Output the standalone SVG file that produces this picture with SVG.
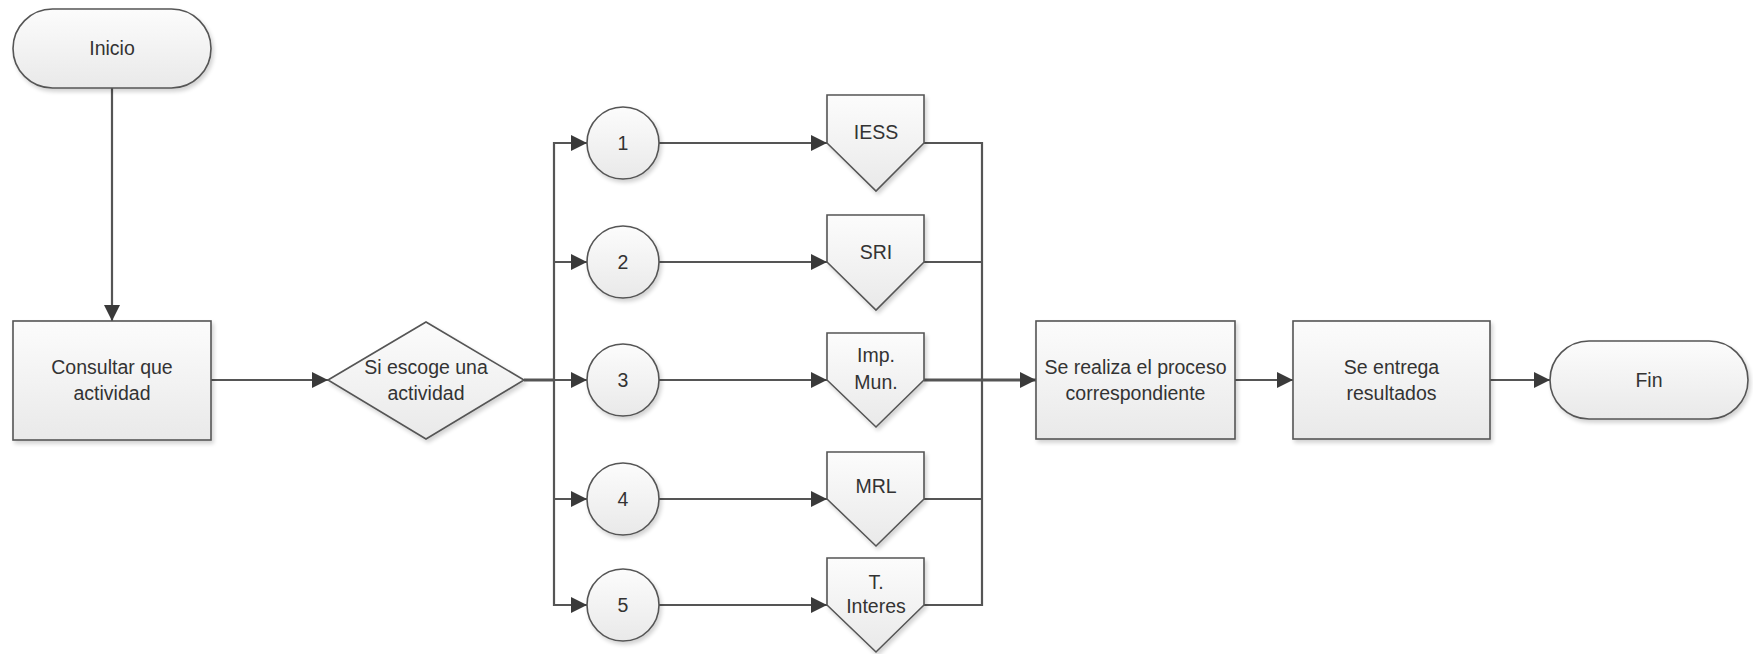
<svg xmlns="http://www.w3.org/2000/svg" width="1753" height="654" viewBox="0 0 1753 654">
<defs>
  <linearGradient id="g" x1="0" y1="0" x2="0" y2="1">
    <stop offset="0" stop-color="#fcfcfc"/>
    <stop offset="1" stop-color="#e9e9e9"/>
  </linearGradient>
  <filter id="sh" x="-10%" y="-10%" width="130%" height="130%">
    <feGaussianBlur in="SourceAlpha" stdDeviation="2"/>
    <feOffset dx="2" dy="3"/>
    <feComponentTransfer><feFuncA type="linear" slope="0.18"/></feComponentTransfer>
    <feMerge><feMergeNode/><feMergeNode in="SourceGraphic"/></feMerge>
  </filter>
  <marker id="arr" markerUnits="userSpaceOnUse" markerWidth="18" markerHeight="16" refX="16" refY="8" orient="auto">
    <path d="M0,0 L16,8 L0,16 Z" fill="#3a3a3a"/>
  </marker>
  <style>
    .shape { fill: url(#g); stroke: #555; stroke-width: 1.6; filter: url(#sh); }
    .t { font-family: "Liberation Sans", Arial, sans-serif; font-size: 19.5px; fill: #333; text-anchor: middle; }
    .c { fill: none; stroke: #555; stroke-width: 2.2; }
    .ca { fill: none; stroke: #555; stroke-width: 2.2; marker-end: url(#arr); }
  </style>
</defs>
<rect width="1753" height="654" fill="#fff"/>

<g id="connectors">
  <line class="ca" x1="112" y1="88" x2="112" y2="321"/>
  <line class="ca" x1="211" y1="380" x2="328" y2="380"/>
  <line class="c" x1="524" y1="380" x2="554" y2="380" style="stroke-width:3"/>
  <line class="c" x1="554" y1="142" x2="554" y2="606"/>
  <line class="ca" x1="554" y1="143" x2="587" y2="143"/>
  <line class="ca" x1="554" y1="262" x2="587" y2="262"/>
  <line class="ca" x1="554" y1="380" x2="587" y2="380"/>
  <line class="ca" x1="554" y1="499" x2="587" y2="499"/>
  <line class="ca" x1="554" y1="605" x2="587" y2="605"/>
  <line class="ca" x1="659" y1="143" x2="827" y2="143"/>
  <line class="ca" x1="659" y1="262" x2="827" y2="262"/>
  <line class="ca" x1="659" y1="380" x2="827" y2="380"/>
  <line class="ca" x1="659" y1="499" x2="827" y2="499"/>
  <line class="ca" x1="659" y1="605" x2="827" y2="605"/>
  <line class="c" x1="924" y1="143" x2="982" y2="143"/>
  <line class="c" x1="924" y1="262" x2="982" y2="262"/>
  <line class="c" x1="924" y1="499" x2="982" y2="499"/>
  <line class="c" x1="924" y1="605" x2="982" y2="605"/>
  <line class="c" x1="982" y1="142" x2="982" y2="606"/>
  <line class="ca" x1="924" y1="380" x2="1036" y2="380" style="stroke-width:3"/>
  <line class="ca" x1="1235" y1="380" x2="1293" y2="380"/>
  <line class="ca" x1="1490" y1="380" x2="1550" y2="380"/>
</g>

<g id="inicio">
  <rect class="shape" x="13" y="9" width="198" height="79" rx="39.5" ry="39.5"/>
  <text class="t" x="112" y="55">Inicio</text>
</g>
<g id="consultar">
  <rect class="shape" x="13" y="321" width="198" height="119"/>
  <text class="t" x="112" y="374">Consultar que</text>
  <text class="t" x="112" y="400">actividad</text>
</g>
<g id="decision">
  <polygon class="shape" points="328,380 426,322 524,380 426,439"/>
  <text class="t" x="426" y="374">Si escoge una</text>
  <text class="t" x="426" y="400">actividad</text>
</g>

<g id="c1"><circle class="shape" cx="623" cy="143" r="36"/><text class="t" x="623" y="150">1</text></g>
<g id="c2"><circle class="shape" cx="623" cy="262" r="36"/><text class="t" x="623" y="269">2</text></g>
<g id="c3"><circle class="shape" cx="623" cy="380" r="36"/><text class="t" x="623" y="387">3</text></g>
<g id="c4"><circle class="shape" cx="623" cy="499" r="36"/><text class="t" x="623" y="506">4</text></g>
<g id="c5"><circle class="shape" cx="623" cy="605" r="36"/><text class="t" x="623" y="612">5</text></g>

<g id="iess">
  <polygon class="shape" points="827,95 924,95 924,143 876,191 827,143"/>
  <text class="t" x="876" y="139">IESS</text>
</g>
<g id="sri">
  <polygon class="shape" points="827,215 924,215 924,262 876,310 827,262"/>
  <text class="t" x="876" y="259">SRI</text>
</g>
<g id="impmun">
  <polygon class="shape" points="827,333 924,333 924,380 876,427 827,380"/>
  <text class="t" x="876" y="362">Imp.</text>
  <text class="t" x="876" y="389">Mun.</text>
</g>
<g id="mrl">
  <polygon class="shape" points="827,452 924,452 924,499 876,546 827,499"/>
  <text class="t" x="876" y="493">MRL</text>
</g>
<g id="tinteres">
  <polygon class="shape" points="827,558 924,558 924,605 876,652 827,605"/>
  <text class="t" x="876" y="589">T.</text>
  <text class="t" x="876" y="613">Interes</text>
</g>

<g id="proceso">
  <rect class="shape" x="1036" y="321" width="199" height="118"/>
  <text class="t" x="1135.5" y="374">Se realiza el proceso</text>
  <text class="t" x="1135.5" y="400">correspondiente</text>
</g>
<g id="entrega">
  <rect class="shape" x="1293" y="321" width="197" height="118"/>
  <text class="t" x="1391.5" y="374">Se entrega</text>
  <text class="t" x="1391.5" y="400">resultados</text>
</g>
<g id="fin">
  <rect class="shape" x="1550" y="341" width="198" height="78" rx="39" ry="39"/>
  <text class="t" x="1649" y="387">Fin</text>
</g>
</svg>
